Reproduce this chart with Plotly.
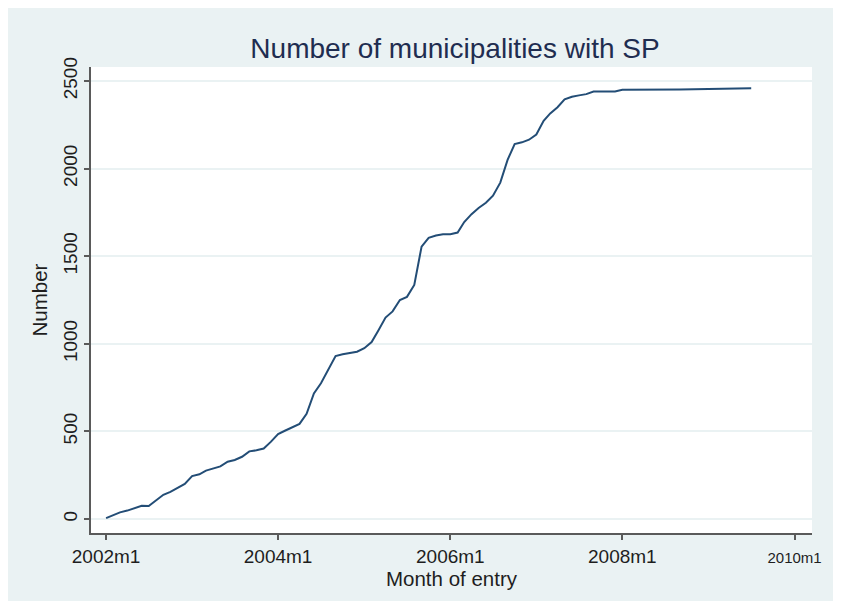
import plotly.graph_objects as go

months = [
    "2002-01", "2002-02", "2002-03", "2002-04", "2002-05", "2002-06", "2002-07", "2002-08",
    "2002-09", "2002-10", "2002-11", "2002-12",
    "2003-01", "2003-02", "2003-03", "2003-04", "2003-05", "2003-06", "2003-07", "2003-08",
    "2003-09", "2003-10", "2003-11", "2003-12",
    "2004-01", "2004-02", "2004-03", "2004-04", "2004-05", "2004-06", "2004-07", "2004-08",
    "2004-09", "2004-10", "2004-11", "2004-12",
    "2005-01", "2005-02", "2005-03", "2005-04", "2005-05", "2005-06", "2005-07", "2005-08",
    "2005-09", "2005-10", "2005-11", "2005-12",
    "2006-01", "2006-02", "2006-03", "2006-04", "2006-05", "2006-06", "2006-07", "2006-08",
    "2006-09", "2006-10", "2006-11", "2006-12",
    "2007-01", "2007-02", "2007-03", "2007-04", "2007-05", "2007-06", "2007-07", "2007-08",
    "2007-09", "2007-10", "2007-11", "2007-12",
    "2008-01", "2008-02", "2008-04", "2008-05", "2008-07", "2008-09", "2009-07",
]
counts = [
    5, 22, 38, 48, 60, 75, 74, 105, 138, 155, 180, 200,
    245, 255, 276, 287, 300, 327, 337, 355, 386, 392, 402, 440,
    485, 505, 525, 543, 600, 717, 775, 850, 930, 940, 947, 955,
    975, 1010, 1075, 1150, 1185, 1250, 1268, 1336, 1555, 1605, 1618, 1625,
    1625, 1635, 1695, 1740, 1775, 1805, 1845, 1920, 2050, 2140, 2150, 2165,
    2195, 2273, 2315, 2350, 2395, 2410, 2418, 2425, 2440, 2440, 2440, 2440,
    2450, 2450, 2450, 2450, 2450, 2451, 2458,
]
tick_dates = ["2002-01-01", "2004-01-01", "2006-01-01", "2008-01-01", "2010-01-01"]
tick_labels = ["2002m1", "2004m1", "2006m1", "2008m1", "2010m1"]
y_ticks = [0, 500, 1000, 1500, 2000, 2500]

BG = "#EAF2F3"
FONT = "Liberation Sans, Arial, sans-serif"
TXT = "#1E1E1E"

W, H = 825, 593

# last label sits at the page edge: draw it a little smaller so it stays inside
tick_text = tick_labels[:-1] + ['<span style="font-size:15px">%s</span>' % tick_labels[-1]]

fig = go.Figure()
fig.add_trace(go.Scatter(
    x=months, y=counts, mode="lines",
    line=dict(color="#234D76", width=2),
    showlegend=False,
))

fig.update_layout(
    width=W, height=H,
    margin=dict(l=83, r=13, t=59, b=68),
    paper_bgcolor=BG,
    plot_bgcolor="white",
    font=dict(family=FONT, color=TXT, size=19),
    title=dict(
        text="Number of municipalities with SP",
        x=447 / W, xanchor="center", xref="container",
        y=1 - 40 / H, yanchor="middle", yref="container",
        font=dict(size=28, color="#1F2D50", family=FONT),
    ),
)

fig.update_xaxes(
    type="date",
    range=["2001-10-29", "2010-03-16"],
    tickvals=tick_dates, ticktext=tick_text,
    ticks="outside", ticklen=5, tickwidth=1.5, tickcolor="#5A5A5A",
    showline=True, linecolor="#5A5A5A", linewidth=1.5,
    showgrid=False, zeroline=False,
    tickfont=dict(size=19, color=TXT),
    title=dict(text="Month of entry", font=dict(size=20.5, color=TXT), standoff=4),
)
fig.update_yaxes(
    range=[-80, 2580],
    tickvals=y_ticks,
    tickangle=-90,
    ticks="outside", ticklen=5, tickwidth=1.5, tickcolor="#5A5A5A",
    showline=True, linecolor="#5A5A5A", linewidth=1.5,
    showgrid=True, gridcolor=BG, gridwidth=1.5,
    zeroline=False,
    tickfont=dict(size=19, color=TXT),
    title=dict(text="Number", font=dict(size=20.5, color=TXT), standoff=6),
)

fig.write_html("out.html")
